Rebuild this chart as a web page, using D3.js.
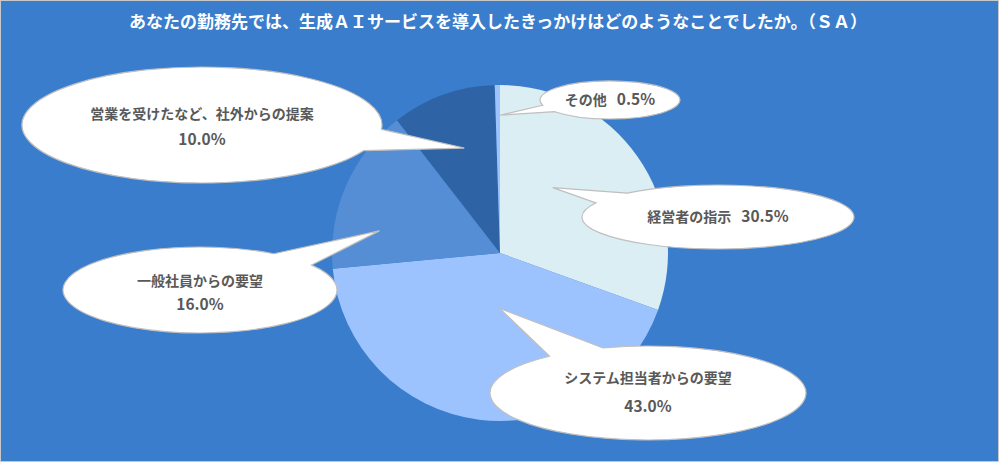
<!DOCTYPE html>
<html>
<head>
<meta charset="utf-8">
<script src="https://cdn.jsdelivr.net/npm/d3@7"></script>
<style>
  html, body { margin: 0; padding: 0; background: #fff; }
  svg { display: block; }
  text { font-family: "Noto Sans CJK JP", "Noto Sans", sans-serif; }
</style>
</head>
<body>
<script>
const TITLE = 'あなたの勤務先では、生成ＡＩサービスを導入したきっかけはどのようなことでしたか。（ＳＡ）';

const categories = ['経営者の指示', 'システム担当者からの要望', '一般社員からの要望',
                    '営業を受けたなど、社外からの提案', 'その他'];
const values = [30.5, 43.0, 16.0, 10.0, 0.5];
const sliceColors = ['#DAEEF3', '#9DC3FF', '#558ED5', '#2E64A6', '#9DC3FF'];

// callout layout: ellipse centre/size, pointer tip as (angle offset, radius fraction), text lines
const callouts = [
  { cx: 718, cy: 217, rx: 136, ry: 32, tipAngle: -16, tipR: 0.50, oneLine: true,  dy: [5] },
  { cx: 648, cy: 393, rx: 158, ry: 47, tipAngle: -7,  tipR: 0.33, oneLine: false, dy: [-10, 19] },
  { cx: 200, cy: 290, rx: 137, ry: 43, tipAngle: -13, tipR: 0.73, oneLine: false, dy: [-4, 20] },
  { cx: 202, cy: 125, rx: 180, ry: 58, tipAngle: 1,   tipR: 0.66, oneLine: false, dy: [-6, 20] },
  { cx: 610, cy: 100, rx: 70,  ry: 19, tipAngle: 0.9, tipR: 0.82, oneLine: true,  dy: [5] }
];

document.addEventListener('DOMContentLoaded', () => {
  drawChart();
});

function drawChart() {
  let width = 1000;
  let height = 463;
  let cx = 500;
  let cy = 253;
  let radius = 168;

  let svg = d3.select('body').append('svg')
              .attr('width', width)
              .attr('height', height);

  svg.append('rect')
     .attr('x', 0.5).attr('y', 0.5)
     .attr('width', width - 2).attr('height', height - 2)
     .attr('fill', '#3A7DCC')
     .attr('stroke', '#C8C8C8')
     .attr('stroke-width', 1);

  svg.append('text')
     .attr('x', width / 2 - 2)
     .attr('y', 28)
     .attr('text-anchor', 'middle')
     .attr('fill', '#FFFFFF')
     .attr('font-size', 17)
     .attr('font-weight', 'bold')
     .text(TITLE);

  let pie = d3.pie().sort(null).value(d => d);
  let arcs = pie(values);
  let arc = d3.arc().innerRadius(0).outerRadius(radius);

  let g = svg.append('g')
             .attr('transform', 'translate(' + cx + ',' + cy + ')');

  g.selectAll('path.slice')
   .data(arcs)
   .enter().append('path')
   .attr('class', 'slice')
   .attr('d', arc)
   .attr('fill', (d, i) => sliceColors[i]);

  let labels = svg.append('g');

  arcs.forEach((a, i) => {
    let c = callouts[i];
    let mid = (a.startAngle + a.endAngle) / 2 + c.tipAngle * Math.PI / 180;
    let tx = cx + Math.sin(mid) * radius * c.tipR;
    let ty = cy - Math.cos(mid) * radius * c.tipR;

    labels.append('path')
          .attr('d', calloutPath(c, tx, ty))
          .attr('fill', '#FFFFFF')
          .attr('stroke', '#BFBFBF')
          .attr('stroke-width', 1.2);

    let pct = values[i].toFixed(1) + '%';
    let textAttrs = sel => sel.attr('text-anchor', 'middle')
                              .attr('fill', '#595959')
                              .attr('font-weight', 'bold');
    if (c.oneLine) {
      let t = labels.append('text')
                    .attr('x', c.cx)
                    .attr('y', c.cy + c.dy[0])
                    .call(textAttrs);
      t.append('tspan').attr('font-size', 14).text(categories[i]);
      t.append('tspan').attr('dx', 10).attr('font-size', 15.5).text(pct);
    } else {
      labels.append('text')
            .attr('x', c.cx)
            .attr('y', c.cy + c.dy[0])
            .attr('font-size', 14)
            .call(textAttrs)
            .text(categories[i]);
      labels.append('text')
            .attr('x', c.cx)
            .attr('y', c.cy + c.dy[1])
            .attr('font-size', 15.5)
            .call(textAttrs)
            .text(pct);
    }
  });
}

// ellipse with a wedge pointing to (tx, ty)
function calloutPath(c, tx, ty) {
  let u = (tx - c.cx) / c.rx;
  let v = (ty - c.cy) / c.ry;
  let phi = Math.atan2(v, u);
  let delta = 11 * Math.PI / 180;
  let ax = c.cx + c.rx * Math.cos(phi - delta);
  let ay = c.cy + c.ry * Math.sin(phi - delta);
  let bx = c.cx + c.rx * Math.cos(phi + delta);
  let by = c.cy + c.ry * Math.sin(phi + delta);
  return 'M' + ax + ',' + ay +
         'L' + tx + ',' + ty +
         'L' + bx + ',' + by +
         'A' + c.rx + ',' + c.ry + ' 0 1 1 ' + ax + ',' + ay + 'Z';
}
</script>
</body>
</html>
